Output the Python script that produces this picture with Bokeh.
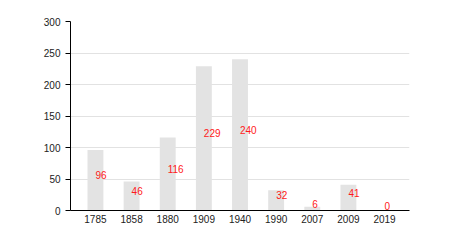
from bokeh.plotting import figure
from bokeh.models import FactorRange, ColumnDataSource, SingleIntervalTicker
from bokeh.core.properties import value
from bokeh.embed import file_html
from bokeh.resources import INLINE

years = ["1785", "1858", "1880", "1909", "1940", "1990", "2007", "2009", "2019"]
counts = [96, 46, 116, 229, 240, 32, 6, 41, 0]

FONT = "Liberation Sans"

src = ColumnDataSource(dict(
    x=years,
    top=counts,
    mid=[c / 2 for c in counts],
    label=[str(c) for c in counts],
))

p = figure(
    width=450, height=250,
    x_range=FactorRange(factors=years, range_padding=0.19, range_padding_units="absolute"),
    y_range=(0, 300),
    output_backend="svg", toolbar_location=None,
    min_border_left=70, min_border_right=41, min_border_top=21, min_border_bottom=40,
)
p.outline_line_color = None
p.background_fill_color = "white"
p.border_fill_color = "white"

p.vbar(x="x", top="top", width=0.44, source=src, fill_color="#e3e3e3", line_color=None)
p.text(x="x", y="mid", text="label", source=src, text_color="#ff1a1a",
       text_font=value(FONT), text_font_size="10px",
       text_align="left", text_baseline="alphabetic", y_offset=-5)

p.xgrid.grid_line_color = None
p.ygrid.grid_line_color = "#e2e2e2"
p.ygrid.grid_line_width = 1
p.yaxis.ticker = SingleIntervalTicker(interval=50)

for ax in (p.xaxis[0], p.yaxis[0]):
    ax.axis_line_color = "black"
    ax.axis_line_width = 1
    ax.major_label_text_font = FONT
    ax.major_label_text_font_size = "10px"
    ax.major_label_text_color = "#222222"
    ax.minor_tick_line_color = None

p.xaxis.major_tick_line_color = None
p.xaxis.major_tick_out = 0
p.xaxis.major_tick_in = 0
p.xaxis.major_label_standoff = 4
p.yaxis.major_tick_line_color = "black"
p.yaxis.major_tick_out = 5
p.yaxis.major_tick_in = 0
p.yaxis.major_label_standoff = 5

open("out.html", "w").write(file_html(p, INLINE))
